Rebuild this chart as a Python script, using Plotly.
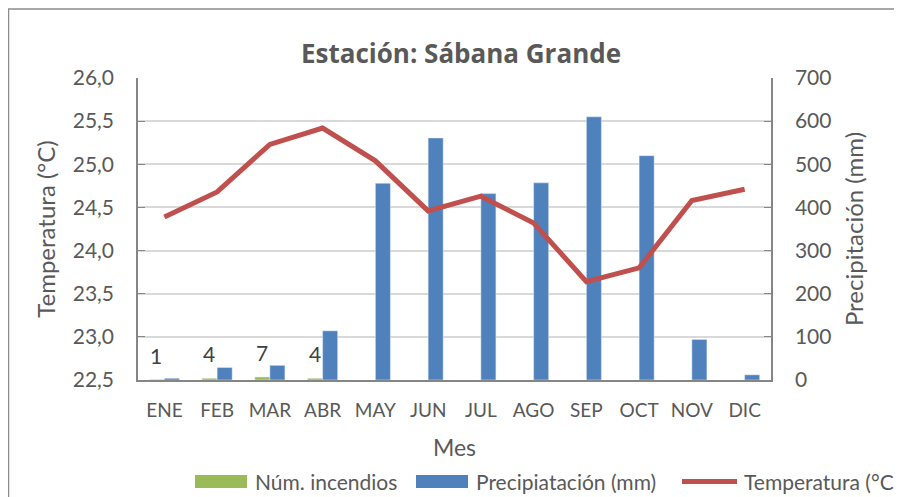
import plotly.graph_objects as go

months = ["ENE", "FEB", "MAR", "ABR", "MAY", "JUN", "JUL", "AGO", "SEP", "OCT", "NOV", "DIC"]
incendios = [1, 4, 7, 4, None, None, None, None, None, None, None, None]
precip = [4, 29, 34, 114, 456, 561, 432, 457, 610, 520, 94, 12]
temperatura = [24.39, 24.68, 25.23, 25.42, 25.04, 24.46, 24.63, 24.32, 23.64, 23.80, 24.58, 24.71]

legend_names = ["Núm. incendios", "Precipiatación (mm)", "Temperatura (°C)"]
colors = ["#9BBB59", "#4F81BD", "#C0504D"]

FONT = "Lato"
TXT = "#595959"
W, H = 902, 497
OFF = 8  # page body margin
# plot area in screen pixels: x 138..771, y 78..380
SL, ST, SR, SB = 138, 78, 771, 380
L, T = SL - OFF, ST - OFF
pw, ph = SR - SL, SB - ST
R, B = W - L - pw, H - T - ph

def px(xs):
    return (xs - SL) / pw

def py(ys):
    return (SB - ys) / ph

fig = go.Figure()
fig.add_trace(go.Bar(x=months, y=incendios, name=legend_names[0],
                     marker=dict(color=colors[0]), yaxis="y", showlegend=False))
fig.add_trace(go.Bar(x=months, y=precip, name=legend_names[1],
                     marker=dict(color=colors[1]), yaxis="y", showlegend=False))
fig.add_trace(go.Scatter(x=months, y=temperatura, name=legend_names[2],
                         mode="lines", line=dict(color=colors[2], width=5),
                         yaxis="y2", showlegend=False))

for m, v in zip(months, incendios):
    if v is not None:
        fig.add_annotation(x=m, y=v, xref="x", yref="y", text=str(v),
                           showarrow=False, xshift=-8, yshift=10, yanchor="bottom",
                           font=dict(family=FONT, size=21, color="#404040"))

# outer chart border
fig.add_shape(type="rect", xref="paper", yref="paper",
              x0=px(8.5), x1=px(897), y0=py(520), y1=py(9),
              line=dict(color="#8C8C8C", width=1.5), fillcolor="rgba(0,0,0,0)", layer="below")

# legend (drawn manually to match the wide legend keys)
leg_y = 481.5
keys = [(195, 247), (416, 468), (682, 737)]
text_x = [253, 474, 742]
for i, (k, tx) in enumerate(zip(keys, text_x)):
    if i < 2:
        fig.add_shape(type="rect", xref="paper", yref="paper",
                      x0=px(k[0]), x1=px(k[1]), y0=py(488), y1=py(475),
                      line=dict(width=0), fillcolor=colors[i])
    else:
        fig.add_shape(type="line", xref="paper", yref="paper",
                      x0=px(k[0]), x1=px(k[1]), y0=py(leg_y), y1=py(leg_y),
                      line=dict(color=colors[i], width=5))
    fig.add_annotation(xref="paper", yref="paper", x=px(tx), y=py(leg_y),
                       xanchor="left", yanchor="middle", showarrow=False,
                       text=legend_names[i], font=dict(family=FONT, size=21, color=TXT))

fig.update_layout(
    width=W, height=H,
    margin=dict(l=L, r=R, t=T, b=B, autoexpand=False),
    paper_bgcolor="white", plot_bgcolor="white",
    separators=",.",
    barmode="group", bargap=0.43, bargroupgap=0,
    font=dict(family=FONT, color=TXT, size=20),
    showlegend=False,
    title=dict(text="<b>Estación: Sábana Grande</b>", x=(461 - OFF) / W, xanchor="center",
               y=1 - (54 - OFF) / H, yanchor="middle", xref="container", yref="container",
               font=dict(family="Open Sans", size=26, color=TXT)),
    xaxis=dict(showline=True, linecolor="#868686", linewidth=1.5, ticks="",
               tickfont=dict(size=19, color=TXT), ticklabelstandoff=12,
               title=dict(text="Mes", font=dict(size=23, color=TXT), standoff=20)),
    yaxis=dict(side="right", range=[0, 700], dtick=100, tickformat="d",
               showgrid=True, gridcolor="#D9D9D9", gridwidth=1.5,
               showline=True, linecolor="#868686", linewidth=1.5,
               ticks="inside", ticklen=7, tickcolor="#868686",
               tickfont=dict(size=21, color=TXT), zeroline=False, ticklabelstandoff=18,
               title=dict(text="Precipitación (mm)", font=dict(size=24, color=TXT), standoff=16)),
    yaxis2=dict(side="left", overlaying="y", range=[22.5, 26.0], dtick=0.5, tickformat=".1f",
                showgrid=False, showline=True, linecolor="#868686", linewidth=1.5,
                ticks="inside", ticklen=7, tickcolor="#868686",
                tickfont=dict(size=21, color=TXT), zeroline=False, ticklabelstandoff=18,
                title=dict(text="Temperatura (°C)", font=dict(size=24, color=TXT), standoff=10)),
)

fig.write_html("out.html")
